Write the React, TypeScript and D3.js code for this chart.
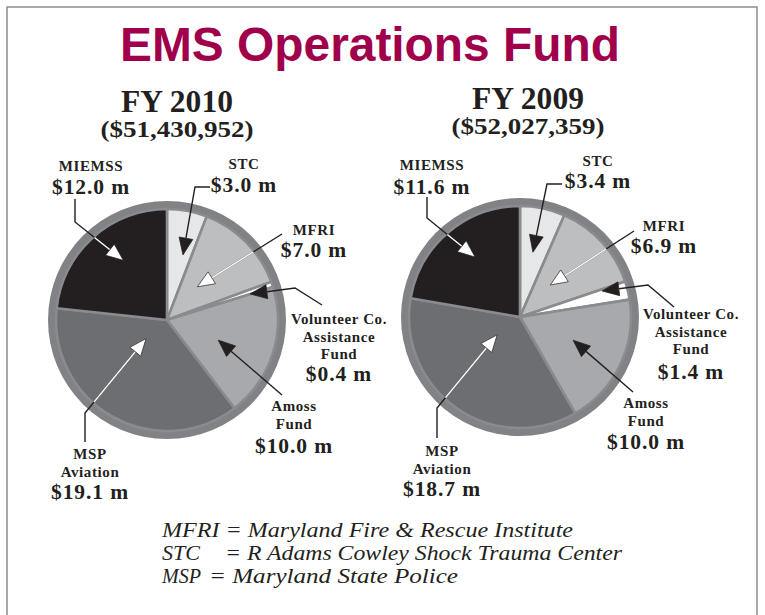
import * as d3 from 'd3'
import { useEffect, useRef } from 'react'

// data
const categories = ['STC', 'MFRI', 'Volunteer', 'Amoss', 'MSP', 'MIEMSS']
const values2010 = [3.0, 7.0, 0.4, 10.0, 19.1, 12.0]
const values2009 = [3.4, 6.9, 1.4, 10.0, 18.7, 11.6]
const nameLines = [['STC'], ['MFRI'], ['Volunteer Co.', 'Assistance', 'Fund'], ['Amoss', 'Fund'], ['MSP', 'Aviation'], ['MIEMSS']]
const years = ['FY 2010', 'FY 2009']
const totals = ['($51,430,952)', '($52,027,359)']
const footAbbr = ['MFRI', 'STC', 'MSP']
const footText = ['= Maryland Fire & Rescue Institute', '= R Adams Cowley Shock Trauma Center', '= Maryland State Police']

const sliceColors = ['#e6e7e8', '#bcbec0', '#ffffff', '#a7a9ac', '#6d6e71', '#231f20']
const whiteArrow = [false, true, false, false, true, true]
const ringColor = '#808285'
const ink = '#231f20'

// layout: label anchors and leader elbows (x, y) per slice; tip = angle offset from slice middle (deg) + radius
const layouts = [
  {
    cx: 167, cy: 320, r: 119, hx: 177, hy: 112, ty: 137,
    labels: [[244, 169, 192], [314, 235, 257], [339, 324, 381], [294, 411, 453], [90, 459, 499], [91, 171, 194]],
    elbows: [[[210, 187], [195, 187]], [[282, 234]], [[322, 305], [295, 288]], [[282, 395]], [[85, 442], [85, 413]], [[75, 199], [75, 222]]],
    tips: [[3.3, 67], [-3, 45], [1.3, 87], [3.8, 55], [19, 28], [5.7, 74]],
  },
  {
    cx: 520, cy: 317, r: 119, hx: 528, hy: 109, ty: 134,
    labels: [[598, 166, 188], [664, 231, 253], [691, 319, 379], [646, 408, 449], [442, 456, 496], [432, 170, 194]],
    elbows: [[[562, 184], [547, 184]], [[634, 231]], [[674, 307], [648, 285]], [[633, 392]], [[437, 438], [437, 408]], [[427, 197], [427, 218]]],
    tips: [[-0.5, 66], [-4, 44], [-3.8, 86], [-2, 58], [17, 29], [3.3, 75]],
  },
]

// footnote rows: abbreviation width, '=' x, rest width
const footLayout = [[0, 0, 411], [38, 225, 397], [39, 209, 249]]

const serif = 'Liberation Serif, Times New Roman, Times, serif'
const sans = 'Liberation Sans, Arial, Helvetica, sans-serif'

export default function App() {
  const ref = useRef<SVGSVGElement>(null)

  useEffect(() => {
    const svg = d3.select(ref.current)
    svg.selectAll('*').remove()

    svg.append('rect')
      .attr('x', 7).attr('y', 7).attr('width', 750).attr('height', 640)
      .attr('fill', 'white').attr('stroke', '#8d8d8d').attr('stroke-width', 1.5)

    svg.append('text')
      .attr('x', 370).attr('y', 61)
      .attr('text-anchor', 'middle')
      .style('font-family', sans)
      .attr('font-weight', 'bold').attr('font-size', 48)
      .attr('textLength', 500).attr('lengthAdjust', 'spacingAndGlyphs')
      .attr('fill', '#a0004b')
      .text('EMS Operations Fund')

    const allValues = [values2010, values2009]
    const pie = d3.pie<number>().sort(null).value(d => d)

    layouts.forEach((L, p) => {
      const values = allValues[p]
      const g = svg.append('g').style('font-family', serif)
      const inner = L.r - 8

      g.append('text')
        .attr('x', L.hx).attr('y', L.hy).attr('text-anchor', 'middle')
        .attr('font-weight', 'bold').attr('font-size', 31)
        .attr('textLength', 112).attr('lengthAdjust', 'spacingAndGlyphs')
        .attr('fill', ink).text(years[p])
      g.append('text')
        .attr('x', L.hx).attr('y', L.ty).attr('text-anchor', 'middle')
        .attr('font-weight', 'bold').attr('font-size', 23)
        .attr('textLength', 153).attr('lengthAdjust', 'spacingAndGlyphs')
        .attr('fill', ink).text(totals[p])

      // pie
      g.append('circle').attr('cx', L.cx).attr('cy', L.cy).attr('r', L.r).attr('fill', ringColor)
      const arcs = pie(values)
      const arc = d3.arc<d3.PieArcDatum<number>>().innerRadius(0).outerRadius(inner)
      g.append('g')
        .attr('transform', `translate(${L.cx},${L.cy})`)
        .selectAll('path')
        .data(arcs)
        .join('path')
        .attr('d', arc)
        .attr('fill', (d, i) => sliceColors[i])
        .attr('stroke', '#898b8e')
        .attr('stroke-width', 2.6)
        .attr('stroke-linejoin', 'round')

      const clipId = `inside-${p}`
      svg.append('clipPath').attr('id', clipId)
        .append('circle').attr('cx', L.cx).attr('cy', L.cy).attr('r', inner - 1)

      // leaders
      arcs.forEach((a, i) => {
        const mid = (a.startAngle + a.endAngle) / 2 + (L.tips[i][0] * Math.PI) / 180
        const tip: [number, number] = [L.cx + Math.sin(mid) * L.tips[i][1], L.cy - Math.cos(mid) * L.tips[i][1]]
        const pts = L.elbows[i] as [number, number][]
        const prev = pts[pts.length - 1]
        const dx = tip[0] - prev[0], dy = tip[1] - prev[1]
        const len = Math.hypot(dx, dy)
        const ux = dx / len, uy = dy / len
        const hl = 17, hw = 7
        const base: [number, number] = [tip[0] - ux * hl, tip[1] - uy * hl]
        const line = d3.line()([...pts, base])
        const head = [tip, [base[0] - uy * hw, base[1] + ux * hw], [base[0] + uy * hw, base[1] - ux * hw]]
        g.append('path').attr('d', line).attr('fill', 'none').attr('stroke', ink).attr('stroke-width', 1.4)
        if (whiteArrow[i]) {
          g.append('path').attr('d', line).attr('fill', 'none').attr('stroke', 'white')
            .attr('stroke-width', 1.4).attr('clip-path', `url(#${clipId})`)
        }
        g.append('polygon')
          .attr('points', head.map(q => q.join(',')).join(' '))
          .attr('fill', whiteArrow[i] ? 'white' : ink)
          .attr('stroke', ink).attr('stroke-width', 0.7)

        // labels
        const [lx, ly, vy] = L.labels[i]
        nameLines[i].forEach((t, k) => {
          g.append('text')
            .attr('x', lx).attr('y', ly + k * 17.5).attr('text-anchor', 'middle')
            .attr('font-weight', 'bold').attr('font-size', 15)
            .attr('letter-spacing', 0.6)
            .attr('fill', ink).text(t)
        })
        g.append('text')
          .attr('x', lx).attr('y', vy).attr('text-anchor', 'middle')
          .attr('font-weight', 'bold').attr('font-size', 21.5)
          .attr('letter-spacing', 0.9)
          .attr('fill', ink).text(`$${values[i].toFixed(1)} m`)
      })
    })

    // footnotes
    footAbbr.forEach((ab, i) => {
      const y = 537 + i * 23
      const [abW, eqX, restW] = footLayout[i]
      const t = svg.append('text')
        .attr('y', y).style('font-family', serif).attr('font-style', 'italic')
        .attr('font-size', 20.5).attr('fill', ink)
      if (i === 0) {
        t.attr('x', 162).attr('textLength', restW).attr('lengthAdjust', 'spacingAndGlyphs')
          .text(`${ab} ${footText[i]}`)
      } else {
        t.append('tspan').attr('x', 162).attr('textLength', abW).attr('lengthAdjust', 'spacingAndGlyphs').text(ab)
        t.append('tspan').attr('x', eqX).attr('textLength', restW).attr('lengthAdjust', 'spacingAndGlyphs').text(footText[i])
      }
    })
  }, [])

  return (
    <svg ref={ref} width={765} height={615} style={{ position: 'absolute', left: 0, top: 0 }} />
  )
}
